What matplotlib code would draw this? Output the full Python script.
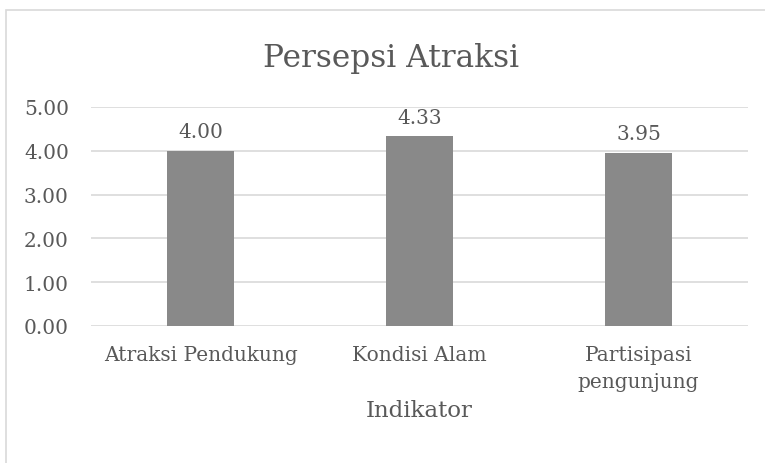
import matplotlib.pyplot as plt
from matplotlib.patches import Rectangle

categories = ['Atraksi Pendukung', 'Kondisi Alam', 'Partisipasi\npengunjung']
values = [4.00, 4.33, 3.95]
yticks = [0, 1, 2, 3, 4, 5]

plt.rcParams['font.family'] = ['DejaVu Serif']
txt = '#595959'
grid = '#d9d9d9'

fig = plt.figure(figsize=(7.65, 4.64), dpi=100)
# outer chart frame (cut off at right/bottom like the source)
fig.patches.append(Rectangle((6.5 / 765, -0.1), 1.2, (464 - 11) / 464 + 0.1,
                             transform=fig.transFigure, fill=False,
                             edgecolor=grid, linewidth=1.2))

ax = fig.add_axes([91 / 765, (464 - 327) / 464, (748 - 91) / 765, (327 - 108) / 464])
x = range(len(categories))
bars = ax.bar(x, values, width=0.31, color='#898989', zorder=3)
for b, v in zip(bars, values):
    ax.annotate(f'{v:.2f}', (b.get_x() + b.get_width() / 2, v),
                xytext=(0, 7), textcoords='offset points',
                ha='center', va='bottom', fontsize=14.5, color=txt)

ax.set_xlim(-0.5, 2.5)
ax.set_ylim(0, 5)
ax.set_yticks(yticks)
ax.set_yticklabels([f'{t:.2f}' for t in yticks], fontsize=14.5, color=txt)
ax.set_xticks(list(x))
ax.set_xticklabels(categories, fontsize=14.5, color=txt, linespacing=1.5)
ax.tick_params(length=0)
ax.tick_params(axis='x', pad=14)
ax.tick_params(axis='y', pad=16)
ax.yaxis.grid(True, color=grid, linewidth=1.2, zorder=0)
for s in ax.spines.values():
    s.set_visible(False)
ax.set_xlabel('Indikator', fontsize=16.5, color=txt, labelpad=6)

fig.text(391 / 765, 1 - 58 / 464, 'Persepsi Atraksi', ha='center', va='center',
         fontsize=22.5, color=txt)

fig.savefig('out.png', dpi=100)
